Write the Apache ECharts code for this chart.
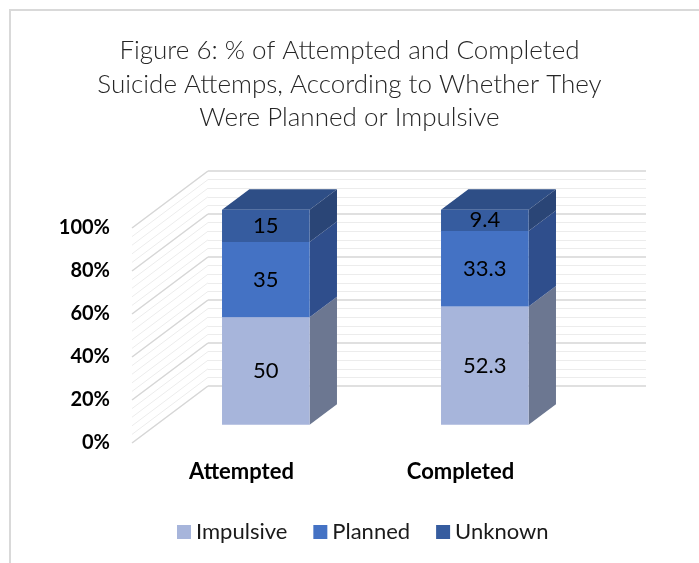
<!DOCTYPE html>
<html>
<head>
<meta charset="utf-8">
<script src="https://cdn.jsdelivr.net/npm/echarts@6/dist/echarts.min.js"></script>
<style>html,body{margin:0;padding:0;background:#fff}#c{width:699px;height:563px}</style>
</head>
<body>
<div id="c"></div>
<script>
const categories = ['Attempted', 'Completed'];
const impulsive = [50, 52.3];
const planned = [35, 33.3];
const unknown = [15, 9.4];
const seriesNames = ['Impulsive', 'Planned', 'Unknown'];
const yTickLabels = ['0%', '20%', '40%', '60%', '80%', '100%'];
const titleLines = ['Figure 6: % of Attempted and Completed', 'Suicide Attemps, According to Whether They', 'Were Planned or Impulsive'];

const layers = [impulsive, planned, unknown];
const faceColors = ['#a7b5db', '#4472c4', '#365c9f'];
const sideColors = ['#6c7791', '#2f4e8c', '#2a4576'];
const topColor = '#2e4e86';

// oblique projection of the floor depth (pixels)
const DEPTH_X = -76, DEPTH_Y = 57;
const BAR_FRONT = 0.68, BAR_BACK = 0.32;
const FONT = 'Lato, "Noto Sans", sans-serif';

const chart = echarts.init(document.getElementById('c'));

function barRender(k) {
  return function (params, api) {
    const ci = api.value(0);
    let total = 0;
    layers.forEach(l => total += l[ci]);
    let base = 0;
    for (let j = 0; j < k; j++) base += layers[j][ci];
    const b = base / total * 100;
    const t = (base + layers[k][ci]) / total * 100;
    const pb = api.coord([ci, b]);
    const pt = api.coord([ci, t]);
    const band = api.size([1, 0])[0];
    const w = band * 0.40;
    const fx = pb[0] + DEPTH_X * BAR_FRONT, fy = DEPTH_Y * BAR_FRONT;
    const dx = DEPTH_X * (BAR_BACK - BAR_FRONT), dy = DEPTH_Y * (BAR_BACK - BAR_FRONT);
    const xl = fx - w / 2, xr = fx + w / 2;
    const yt = pt[1] + fy, yb = pb[1] + fy;
    const children = [
      {type: 'polygon', shape: {points: [[xr, yt], [xr + dx, yt + dy], [xr + dx, yb + dy], [xr, yb]]},
        style: {fill: sideColors[k]}},
      {type: 'rect', shape: {x: xl, y: yt, width: w, height: yb - yt}, style: {fill: faceColors[k]}},
      {type: 'text', x: fx, y: (yt + yb) / 2,
        style: {text: String(layers[k][ci]), fill: '#000', font: '22px ' + FONT,
          align: 'center', verticalAlign: 'middle'}}
    ];
    if (k === layers.length - 1) {
      children.unshift({type: 'polygon',
        shape: {points: [[xl, yt], [xl + dx, yt + dy], [xr + dx, yt + dy], [xr, yt]]},
        style: {fill: topColor}});
    }
    return {type: 'group', children: children};
  };
}

const wallTicks = [];
for (let v = 0; v <= 100; v += 4) wallTicks.push(v);

const barSeries = layers.map((l, k) => ({
  type: 'custom',
  name: seriesNames[k],
  xAxisIndex: 0, yAxisIndex: 0,
  itemStyle: {color: faceColors[k]},
  renderItem: barRender(k),
  data: categories.map((c, i) => [i, l[i]]),
  z: 5
}));

const titleTops = [38, 72, 105];

const option = {
  animation: false,
  title: titleLines.map((t, i) => ({
    text: t, left: 'center', top: titleTops[i], padding: 0,
    textStyle: {fontFamily: FONT, fontWeight: 300, fontSize: 26, color: '#262626'}
  })),
  legend: {
    data: seriesNames, left: 172, top: 516, icon: 'rect', itemWidth: 14, itemHeight: 14, itemGap: 26,
    textStyle: {fontFamily: FONT, fontSize: 22, color: '#1a1a1a'}
  },
  graphic: [
    {type: 'line', shape: {x1: 9, y1: 10, x2: 699, y2: 10}, style: {stroke: '#d9d9d9', lineWidth: 2}, silent: true},
    {type: 'line', shape: {x1: 10, y1: 9, x2: 10, y2: 563}, style: {stroke: '#d9d9d9', lineWidth: 2}, silent: true}
  ],
  grid: [
    {left: 208, right: 53, top: 171, bottom: 177},
    {left: 132, right: 129, top: 228, bottom: 120}
  ],
  xAxis: [
    {type: 'category', gridIndex: 0, data: categories, show: false},
    {type: 'category', gridIndex: 1, data: categories,
      axisLine: {show: false}, axisTick: {show: false},
      axisLabel: {margin: 18, fontFamily: FONT, fontWeight: 'bold', fontSize: 22, color: '#000'}}
  ],
  yAxis: [
    {type: 'value', gridIndex: 0, min: 0, max: 100, interval: 20,
      axisLabel: {show: false}, axisLine: {show: false}, axisTick: {show: false},
      splitLine: {lineStyle: {color: '#d6d6d6', width: 1.5}},
      minorTick: {show: false, splitNumber: 5},
      minorSplitLine: {show: true, lineStyle: {color: '#ececec', width: 1}}},
    {type: 'value', gridIndex: 1, min: 0, max: 100, interval: 20,
      axisLine: {show: false}, axisTick: {show: false}, splitLine: {show: false},
      axisLabel: {margin: 22, fontFamily: FONT, fontWeight: 'bold', fontSize: 20, color: '#000',
        formatter: function (v) { return yTickLabels[Math.round(v / 20)]; }}}
  ],
  series: [
    {
      type: 'custom', name: 'wall', xAxisIndex: 0, yAxisIndex: 0, silent: true, z: 1,
      data: wallTicks.map(v => [0, v]),
      renderItem: function (params, api) {
        const v = api.value(1);
        const p = api.coord([0, v]);
        const x0 = params.coordSys.x;
        const major = v % 20 === 0;
        return {type: 'line', shape: {x1: x0, y1: p[1], x2: x0 + DEPTH_X, y2: p[1] + DEPTH_Y},
          style: {stroke: major ? '#d6d6d6' : '#ececec', lineWidth: major ? 1.5 : 1}};
      }
    }
  ].concat(barSeries)
};
chart.setOption(option);
</script>
</body>
</html>
